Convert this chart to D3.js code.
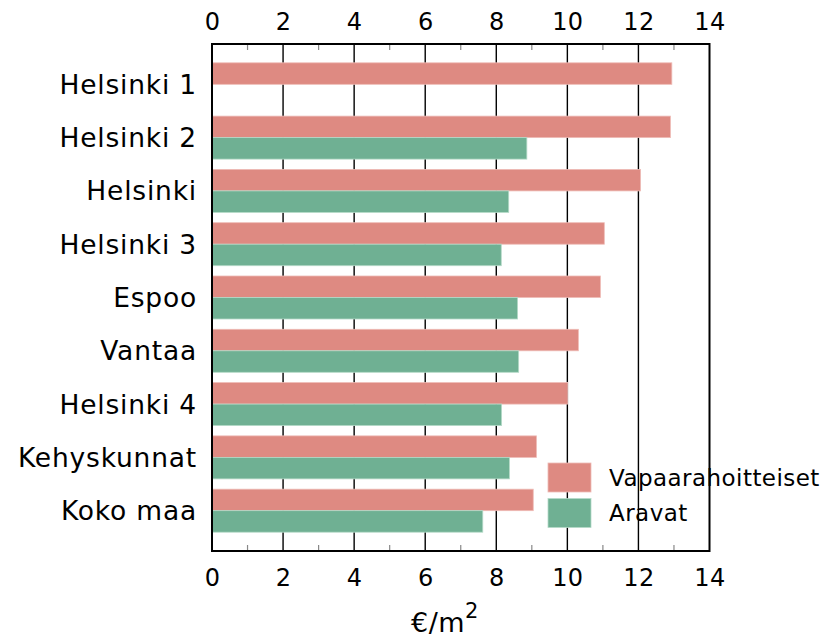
<!DOCTYPE html>
<html>
<head>
<meta charset="utf-8">
<script src="https://cdn.jsdelivr.net/npm/d3@7"></script>
<style>
  html, body { margin: 0; padding: 0; background: #fff; }
  text { font-family: "DejaVu Sans", Verdana, sans-serif; fill: #000; }
</style>
</head>
<body>
<svg id="chart" width="832" height="640"></svg>
<script>
const categories = ["Helsinki 1", "Helsinki 2", "Helsinki", "Helsinki 3", "Espoo", "Vantaa", "Helsinki 4", "Kehyskunnat", "Koko maa"];
const seriesNames = ["Vapaarahoitteiset", "Aravat"];
const vapaarahoitteiset = [12.94, 12.90, 12.06, 11.04, 10.93, 10.31, 10.01, 9.13, 9.04];
const aravat = [null, 8.86, 8.35, 8.14, 8.60, 8.63, 8.15, 8.37, 7.62];
const xTicks = [0, 2, 4, 6, 8, 10, 12, 14];
const xMinorTicks = [1, 3, 5, 7, 9, 11, 13];
const xTitle = "€/m";
const colors = ["#de8a82", "#6fb093"];

const svg = d3.select("#chart");
const L = 212, R = 709.5, T = 44, B = 551;

const x = d3.scaleLinear().domain([0, 14]).range([L, R]);
const y = d3.scaleBand().domain(categories).range([T, B]).paddingInner(0.193).paddingOuter(0.353);
const ySub = d3.scaleBand().domain(seriesNames).range([0, y.bandwidth()]).padding(0);

// gridlines
svg.append("g").selectAll("line").data(xTicks.filter(d => d > 0 && d < 14)).join("line")
  .attr("x1", d => x(d)).attr("x2", d => x(d)).attr("y1", T).attr("y2", B)
  .attr("stroke", "#000").attr("stroke-width", 1.4);

// minor ticks
const minor = svg.append("g");
[T, B].forEach((yy, i) => {
  minor.selectAll(null).data(xMinorTicks).join("line")
    .attr("x1", d => x(d)).attr("x2", d => x(d))
    .attr("y1", yy).attr("y2", i === 0 ? yy + 6 : yy - 6)
    .attr("stroke", "#888").attr("stroke-width", 1.2);
});

// bars
const rows = categories.map((c, i) => ({c, vals: [vapaarahoitteiset[i], aravat[i]]}));
const g = svg.append("g");
rows.forEach(r => {
  r.vals.forEach((v, j) => {
    if (v == null) return;
    g.append("rect")
      .attr("x", x(0))
      .attr("y", y(r.c) + ySub(seriesNames[j]))
      .attr("width", x(v) - x(0))
      .attr("height", ySub.bandwidth())
      .attr("fill", colors[j])
      .attr("stroke", j === 0 ? "#eebbb6" : "#b5dac8")
      .attr("stroke-width", 0.8);
  });
});

// border
svg.append("rect").attr("x", L).attr("y", T).attr("width", R - L).attr("height", B - T)
  .attr("fill", "none").attr("stroke", "#000").attr("stroke-width", 2);

// axes labels (top and bottom)
const axTop = d3.axisTop(x).tickValues(xTicks).tickSize(0).tickPadding(0).tickFormat(d3.format("d"));
const axBot = d3.axisBottom(x).tickValues(xTicks).tickSize(0).tickPadding(0).tickFormat(d3.format("d"));
const gt = svg.append("g").attr("transform", `translate(0,${T})`).call(axTop);
const gb = svg.append("g").attr("transform", `translate(0,${B})`).call(axBot);
[gt, gb].forEach(ga => {
  ga.select(".domain").remove();
  ga.selectAll("text").attr("font-size", 24).style("font-family", "DejaVu Sans").style("letter-spacing", "0.4px");
});
gt.selectAll("text").attr("dy", null).attr("y", -14);
gb.selectAll("text").attr("dy", null).attr("y", 35);

// category labels
const ay = d3.axisLeft(y).tickSize(0).tickPadding(0);
const gy = svg.append("g").attr("transform", `translate(${L - 15},0)`).call(ay);
gy.select(".domain").remove();
gy.selectAll("text").attr("font-size", 26.5).style("font-family", "DejaVu Sans")
  .style("letter-spacing", "0.8px").attr("dy", "0.36em");

// x title
const tt = svg.append("text").attr("x", 445).attr("y", 632).attr("text-anchor", "middle")
  .attr("font-size", 27).style("letter-spacing", "0.5px");
tt.append("tspan").text(xTitle);
tt.append("tspan").attr("dy", -14).attr("font-size", 21).text("2");

// legend
const lg = svg.append("g");
seriesNames.forEach((s, i) => {
  lg.append("rect").attr("x", 548).attr("y", 463 + i * 35.5).attr("width", 43).attr("height", 29)
    .attr("fill", colors[i]).attr("stroke", i === 0 ? "#eebbb6" : "#b5dac8").attr("stroke-width", 0.8);
  lg.append("text").attr("x", 609).attr("y", 477.5 + i * 35.5).attr("dy", "0.36em")
    .attr("font-size", 23).style("letter-spacing", "0.45px").text(s);
});
</script>
</body>
</html>
